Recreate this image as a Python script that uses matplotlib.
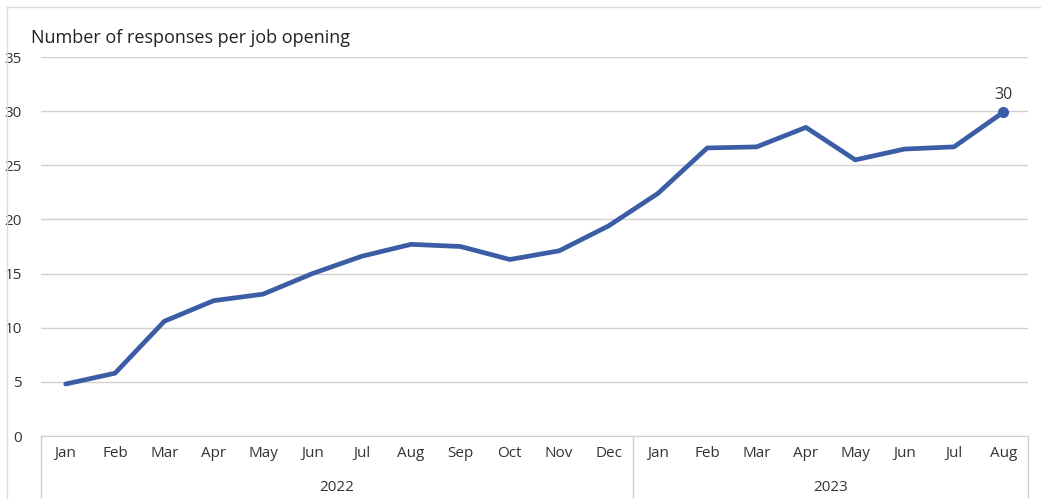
import matplotlib.pyplot as plt
from matplotlib.lines import Line2D

plt.rcParams["font.family"] = ["Open Sans", "DejaVu Sans"]

months = ["Jan", "Feb", "Mar", "Apr", "May", "Jun", "Jul", "Aug", "Sep", "Oct", "Nov", "Dec",
          "Jan", "Feb", "Mar", "Apr", "May", "Jun", "Jul", "Aug"]
years = ["2022", "2023"]
year_counts = [12, 8]
responses = [4.8, 5.8, 10.6, 12.5, 13.1, 15.0, 16.6, 17.7, 17.5, 16.3, 17.1, 19.4,
             22.4, 26.6, 26.7, 28.5, 25.5, 26.5, 26.7, 29.9]
last_label = "30"

LINE = "#3A5DA5"
GRID = "#D0D0D0"
TXT = "#333333"

fig = plt.figure(figsize=(10.41, 4.99), dpi=100)
ax = fig.add_axes([41 / 1041, 63 / 499, 987 / 1041, 379 / 499])

x = list(range(len(responses)))
ax.plot(x, responses, color=LINE, lw=3.4, solid_capstyle="round", solid_joinstyle="round")
ax.plot(x[-1], responses[-1], "o", color=LINE, ms=7)
ax.annotate(last_label, (x[-1], responses[-1]), xytext=(0, 7), textcoords="offset points",
            ha="center", va="bottom", fontsize=11.5, color=TXT)

ax.set_xlim(-0.5, len(x) - 0.5)
ax.set_ylim(0, 35)
ax.set_yticks(range(0, 36, 5))
ax.yaxis.grid(True, color=GRID, lw=1)
ax.set_axisbelow(True)
for s in ["top", "right", "left"]:
    ax.spines[s].set_visible(False)
ax.spines["bottom"].set_color(GRID)
ax.tick_params(axis="y", length=0, labelsize=11, labelcolor=TXT, pad=14)
ax.tick_params(axis="x", length=0, labelsize=11, labelcolor=TXT, pad=7)
ax.set_xticks(x)
ax.set_xticklabels(months)

# year group labels and separators
trans = ax.get_xaxis_transform()
start = 0
bounds = [-0.5]
for yr, n in zip(years, year_counts):
    mid = start + (n - 1) / 2
    ax.text(mid, -0.135, yr, transform=trans, ha="center", va="center", fontsize=11, color=TXT)
    start += n
    bounds.append(start - 0.5)
for b in bounds:
    ax.add_line(Line2D([b, b], [0, -0.16], transform=trans, color=GRID, lw=1, clip_on=False))

fig.text(31 / 1041, 1 - 38 / 499, "Number of responses per job opening", fontsize=13,
         color="#222222", va="center", ha="left")

# outer frame
fig.add_artist(Line2D([7 / 1041, 1], [1 - 7 / 499, 1 - 7 / 499], transform=fig.transFigure,
                      color="#DDDDDD", lw=1))
fig.add_artist(Line2D([7 / 1041, 7 / 1041], [0, 1 - 7 / 499], transform=fig.transFigure,
                      color="#DDDDDD", lw=1))

fig.savefig("out.png", dpi=100)
